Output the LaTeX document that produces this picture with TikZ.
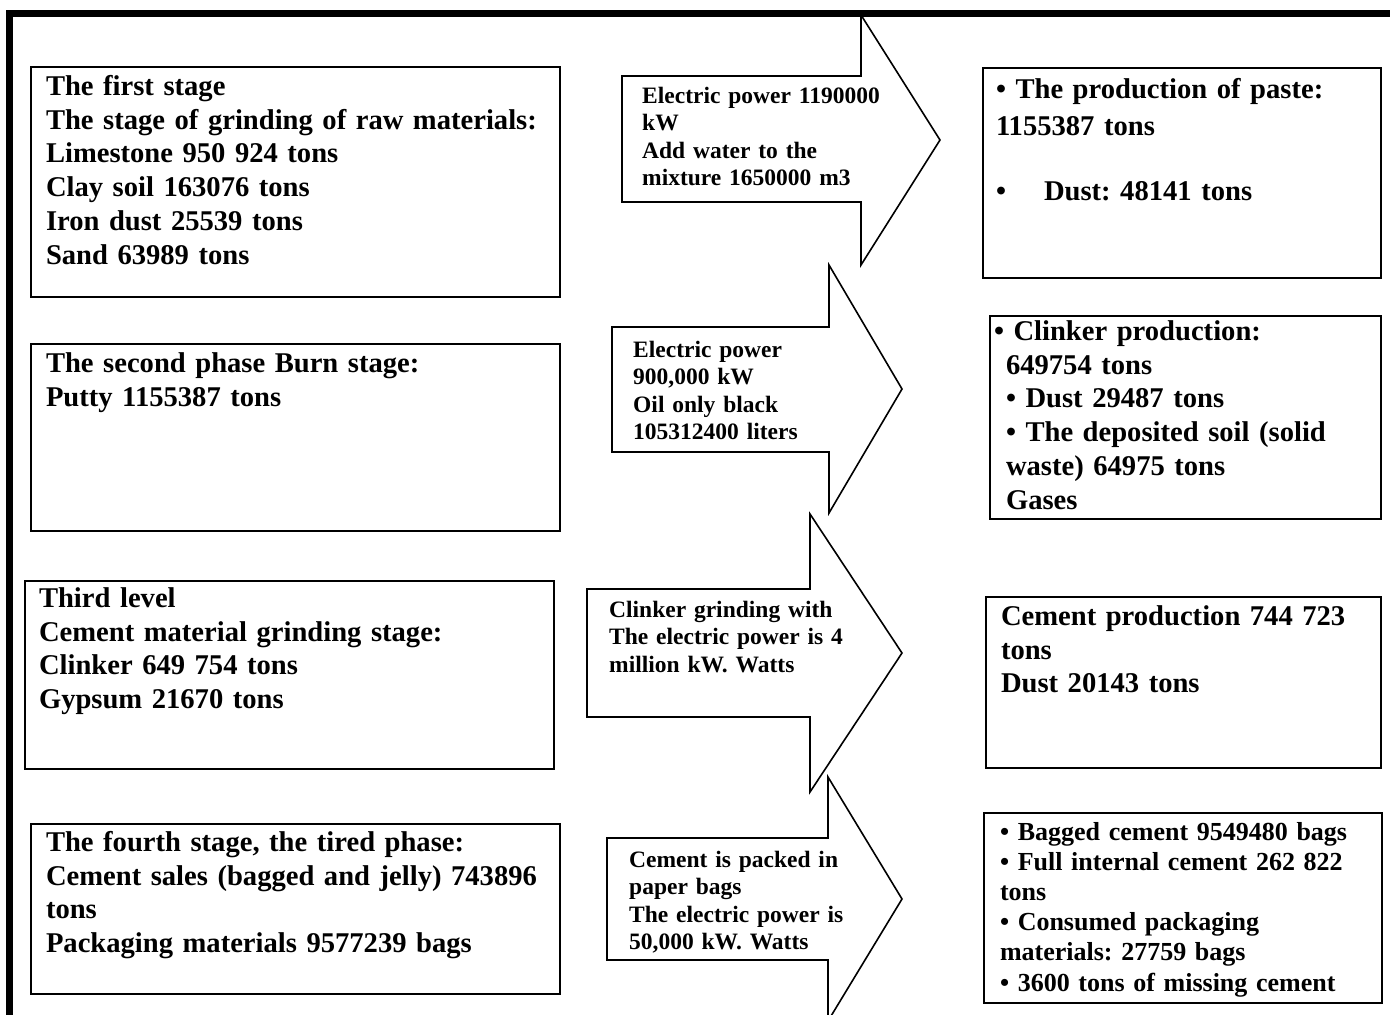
\documentclass[tikz,border=0pt]{standalone}
\usepackage{fontspec}
\setmainfont{Liberation Serif}
\frenchspacing

\begin{document}
\begin{tikzpicture}[
      x=1pt, y=-1pt,
      font=\fontsize{28.6}{33.7}\selectfont\bfseries,
      box/.style={
        draw, line width=2pt, anchor=north west, align=left,
        inner ysep=0pt
      },
      flow/.style={
        draw, line width=1.6pt, fill=white, line join=miter
      },
      flowtext/.style={
        anchor=base west, align=left, inner sep=0pt, text width=270pt,
        font=\fontsize{23.5}{27.6}\selectfont\bfseries
      },
      frame/.style={
        line width=7pt, line join=miter
      }
    ]
    \useasboundingbox (0,0) rectangle (1390,1015);

    \node[box, inner xsep=15pt, text width=499pt, text height=28.5pt, text depth=201.5pt]
      (grind) at (30,66) {The first stage\\
      The stage of grinding of raw materials:\\
      Limestone 950 924 tons\\
      Clay soil 163076 tons\\
      Iron dust 25539 tons\\
      Sand 63989 tons};
    \node[box, inner xsep=15pt, text width=499pt, text height=28.5pt, text depth=158.5pt]
      (burn) at (30,343) {The second phase Burn stage:\\
      Putty 1155387 tons};
    \node[box, inner xsep=14pt, text width=501pt, text height=26.5pt, text depth=161.5pt]
      (cement) at (24,580) {Third level\\
      Cement material grinding stage:\\
      Clinker 649 754 tons\\
      Gypsum 21670 tons};
    \node[box, inner xsep=15pt, text width=499pt, text height=27.5pt, text depth=142.5pt]
      (pack) at (30,823) {The fourth stage, the tired phase:\\
      Cement sales (bagged and jelly) 743896\\
      tons\\
      Packaging materials 9577239 bags};

    \node[box, inner xsep=13pt, text width=372pt, text height=30pt, text depth=180pt]
      (paste) at (982,67) {• The production of paste:\\[4pt]
      1155387 tons\\[31pt]
      •\hspace*{38pt}Dust: 48141 tons};
    \node[box, inner xsep=4pt, text width=383pt, text height=24.5pt, text depth=178.5pt]
      (clinker) at (989,315) {• Clinker production:\\
      \hspace*{12pt}649754 tons\\
      \hspace*{12pt}• Dust 29487 tons\\
      \hspace*{12pt}• The deposited soil (solid\\
      \hspace*{12pt}waste) 64975 tons\\
      \hspace*{12pt}Gases};
    \node[box, inner xsep=15pt, text width=365pt, text height=28.5pt, text depth=142.5pt]
      (prod) at (985,596) {Cement production 744 723\\
      tons\\
      Dust 20143 tons};
    \node[box, inner xsep=16pt, text width=366pt, text height=27pt, text depth=163pt,
      font=\fontsize{26}{30.2}\selectfont\bfseries]
      (sales) at (983,812) {• Bagged cement 9549480 bags\\
      • Full internal cement 262 822\\
      tons\\
      • Consumed packaging\\
      materials: 27759 bags\\
      • 3600 tons of missing cement};

    \draw[flow] (622,76) -- (861,76) -- (861,15) -- (940,140) -- (861,265)
      -- (861,202) -- (622,202) -- cycle;
    \draw[flow] (612,327) -- (829,327) -- (829,265) -- (902,389) -- (829,513)
      -- (829,452) -- (612,452) -- cycle;
    \draw[flow] (587,589) -- (810,589) -- (810,514) -- (902,653) -- (810,792)
      -- (810,717) -- (587,717) -- cycle;
    \draw[flow] (607,838) -- (828,838) -- (828,777) -- (902,899) -- (828,1021)
      -- (828,960) -- (607,960) -- cycle;

    \node[flowtext] (water) at (642,103) {Electric power 1190000\\
      kW\\
      Add water to the\\
      mixture 1650000 m3};
    \node[flowtext] (oil) at (633,357) {Electric power\\
      900,000 kW\\
      Oil only black\\
      105312400 liters};
    \node[flowtext] (power) at (609,617) {Clinker grinding with\\
      The electric power is 4\\
      million kW. Watts};
    \node[flowtext] (bags) at (629,867) {Cement is packed in\\
      paper bags\\
      The electric power is\\
      50,000 kW. Watts};

    \draw[frame] (9,1025) -- (9,13) -- (1400,13);
  \end{tikzpicture}
\end{document}
